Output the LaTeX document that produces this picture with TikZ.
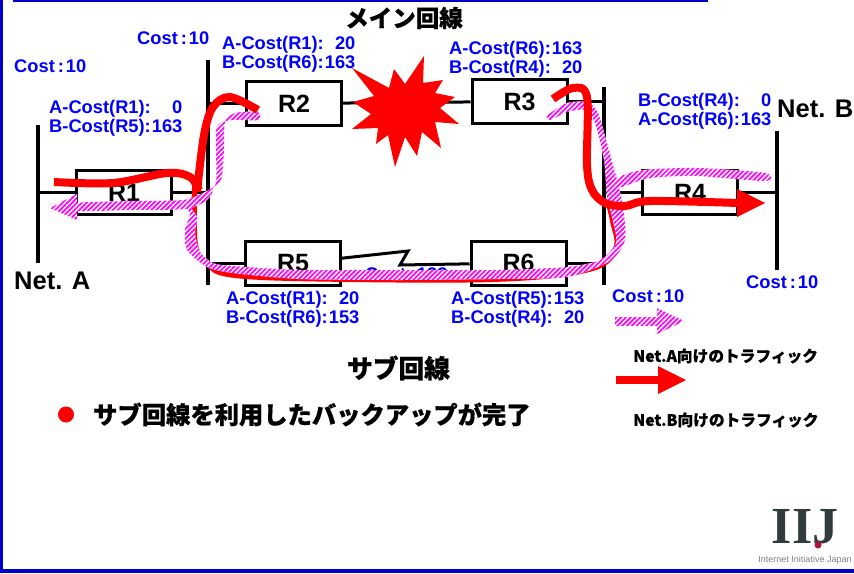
\documentclass[tikz,border=0pt]{standalone}
\usepackage{fontspec}
\setmainfont{Liberation Sans}
\newfontfamily\jpfont[BoldFeatures={FakeBold=0.5}]{Noto Sans CJK JP}
\newfontfamily\logofont{Liberation Serif}
\usetikzlibrary{patterns.meta}
\definecolor{framecolor}{RGB}{0,0,204}
\definecolor{logocolor}{RGB}{50,60,60}
\definecolor{logored}{RGB}{176,16,58}
\newcommand{\costpair}[4]{\begin{tabular}{@{}l@{\hspace{1pt}}r@{}}#1&#2\\#3&#4\end{tabular}}
\newcommand{\costvalue}[1]{Cost\hspace{3pt}:\hspace{2pt}#1}

\begin{document}
\begin{tikzpicture}[x=1pt,y=-1pt,font=\bfseries,
routerbox/.style={draw,line width=3pt,minimum width=95pt,minimum height=44pt,inner sep=0pt,font=\fontsize{25}{25}\selectfont\bfseries},
netlabel/.style={anchor=west,inner sep=0pt,font=\fontsize{25.5}{25}\selectfont\bfseries},
costlabel/.style={anchor=west,inner sep=0pt,text=blue,font=\fontsize{18.3}{19}\selectfont\bfseries},
jplabel/.style={inner sep=0pt,font=\fontsize{24.3}{24}\selectfont\jpfont\bfseries},
legendlabel/.style={anchor=west,inner sep=0pt,font=\fontsize{15.7}{15}\selectfont\jpfont\bfseries},
wire/.style={line width=3pt},
bus/.style={line width=3.4pt},
redroute/.style={draw=red,line width=8pt},
hatchband/.style={preaction={fill=white},pattern={Lines[angle=45,distance=3.4pt,line width=1.7pt]},pattern color=magenta},
]
\useasboundingbox (0,0) rectangle (854,573);
% frame
\fill[framecolor] (0,0) rectangle (3,573);
\fill[framecolor] (0,569) rectangle (854,573);
\fill[framecolor] (13,0) rectangle (708,2);
% buses
\coordinate (busAtop) at (38,125);
\coordinate (busAbot) at (38,263);
\coordinate (busBtop) at (208,60);
\coordinate (busBbot) at (208,285);
\coordinate (busCtop) at (604,87);
\coordinate (busCbot) at (604,285);
\coordinate (busDtop) at (777,131);
\coordinate (busDbot) at (777,270);
\draw[bus] (busAtop) -- (busAbot);
\draw[bus] (busBtop) -- (busBbot);
\draw[bus] (busCtop) -- (busCbot);
\draw[bus] (busDtop) -- (busDbot);
% routers
\node[routerbox] (r1) at (124,192.5) {R1};
\node[routerbox] (r2) at (294,103.5) {R2};
\node[routerbox] (r3) at (519.5,101.5) {R3};
\node[routerbox] (r4) at (690,192.5) {R4};
\node[routerbox] (r5) at (293,263.5) {R5};
\node[routerbox] (r6) at (518.5,263) {R6};
% links
\draw[wire] (r1) -- (r1 -| busAtop);
\draw[wire] (r1) -- (r1 -| busBtop);
\draw[wire] (r2) -- (r2 -| busBtop);
\draw[wire] (r3) -- (r3 -| busCtop);
\draw[wire] (r4) -- (r4 -| busCtop);
\draw[wire] (r4) -- (r4 -| busDtop);
\draw[wire] (r5) -- (r5 -| busBtop);
\draw[wire] (r6) -- (r6 -| busCtop);
\draw[wire] (r2) -- (r3);
\coordinate (zigtop) at (408,251);
\coordinate (zigbot) at (400,265);
\draw[wire] (r5) -- (zigtop) -- (zigbot) -- (r6);
% fault
\fill[red] (352,68) -- (389,88) -- (394,69) -- (405,84) -- (424,56) -- (423,83) -- (443,80) -- (435,93)
  -- (455,97) -- (440,108) -- (459,124) -- (435,122) -- (441,148) -- (422,132) -- (417,156) -- (405,137)
  -- (395,167) -- (388,135) -- (376,144) -- (378,128) -- (352,129) -- (371,114) -- (353,102) -- (374,96) -- cycle;
% texts
\node[jplabel,font=\fontsize{23.5}{24}\selectfont\jpfont\bfseries] (maintitle) at (404,18) {メイン回線};
\node[jplabel,font=\fontsize{25.7}{24}\selectfont\jpfont\bfseries] (subtitle) at (398.5,368) {サブ回線};
\node[netlabel] (neta) at (14,281) {Net. A};
\node[netlabel] (netb) at (777,109) {Net. B};
\node[costlabel] (costa) at (14,66) {\costvalue{10}};
\node[costlabel] (costb) at (137,38) {\costvalue{10}};
\node[costlabel] (costc) at (612,296) {\costvalue{10}};
\node[costlabel] (costd) at (746,282) {\costvalue{10}};
\node[costlabel] (coste) at (365,274.5) {\costvalue{133}};
\node[costlabel] (costr1) at (49,119) {\costpair{A-Cost(R1):}{0}{B-Cost(R5):}{163}};
\node[costlabel] (costr2) at (222,55) {\costpair{A-Cost(R1):}{20}{B-Cost(R6):}{163}};
\node[costlabel] (costr3) at (449,60.5) {\costpair{A-Cost(R6):}{163}{B-Cost(R4):}{20}};
\node[costlabel] (costr4) at (638,112) {\costpair{B-Cost(R4):}{0}{A-Cost(R6):}{163}};
\node[costlabel] (costr5) at (226,310) {\costpair{A-Cost(R1):}{20}{B-Cost(R6):}{153}};
\node[costlabel] (costr6) at (451,310) {\costpair{A-Cost(R5):}{153}{B-Cost(R4):}{20}};
% lower red route
\draw[redroute,line width=5.5pt] plot[smooth,tension=0.6] coordinates {(195,180) (195,243) (207,263) (233,275) (333,279) (500,279) (590,269) (616,248) (613,222) (609,205)};
% hatched routes
\path[hatchband] plot[smooth cycle,tension=0.45] coordinates {(258,112) (235,113) (225,122) (224,150) (221,180) (205,192) (183,200) (130,201) (77,203) (77,211) (130,210) (185,209) (207,200) (216,182) (216,150) (217,126) (232,120) (258,120)};
\path[hatchband] (77,194) -- (50,208) -- (77,220) -- cycle;
\path[hatchband] plot[smooth cycle,tension=0.45] coordinates {(180,203) (187,204) (197,217) (195,233) (200,252) (213,263) (233,266) (300,270) (400,270) (500,270) (567,267) (600,260) (616,243) (612,217) (607,197) (604,160) (595,123) (585,110) (567,112) (550,120) (548,115) (567,103) (587,102) (598,113) (607,143) (617,180) (623,207) (625,240) (610,261) (567,277) (500,279) (400,280) (300,279) (233,273) (207,267) (187,250) (185,230) (190,213)};
\path[hatchband] plot[smooth cycle,tension=0.45] coordinates {(615,188) (617,178) (643,170) (697,168) (765,173) (765,181) (697,176) (650,178) (625,186)};
% upper red routes
\draw[redroute] plot[smooth,tension=0.55] coordinates {(54,182) (113,183) (167,173) (190,177) (199,190)};
\draw[redroute] plot[smooth,tension=0.55] coordinates {(197,192) (204,135) (213,107) (230,97) (258,110)};
\draw[redroute] plot[smooth,tension=0.55] coordinates {(553,99) (573,88) (587,97) (587,165) (592,190) (605,203) (625,206) (650,201) (738,203)};
\fill[red] (737,189) -- (765,203) -- (737,217) -- cycle;
% legend
\path[hatchband] (615,317) rectangle (657,325);
\path[hatchband] (657,308) -- (684,321) -- (657,334) -- cycle;
\fill[red] (616,376) rectangle (658,384);
\fill[red] (658,366) -- (686,380) -- (658,394) -- cycle;
\node[legendlabel] (legenda) at (633,356) {Net.A向けのトラフィック};
\node[legendlabel] (legendb) at (633,420) {Net.B向けのトラフィック};
% bullet
\fill[red] (66,414.5) circle (8);
\node[jplabel,anchor=west] (bullet) at (93,414.5) {サブ回線を利用したバックアップが完了};
% logo
\node[inner sep=0pt,text=logocolor,font=\fontsize{52}{52}\selectfont\logofont\bfseries] (logo) at (805,527) {IIJ};
\fill[logored] (818,545) circle (3.5);
\node[inner sep=0pt,text=gray,font=\fontsize{9}{9}\selectfont] (logotext) at (805,560) {Internet Initiative Japan};
\end{tikzpicture}
\end{document}
